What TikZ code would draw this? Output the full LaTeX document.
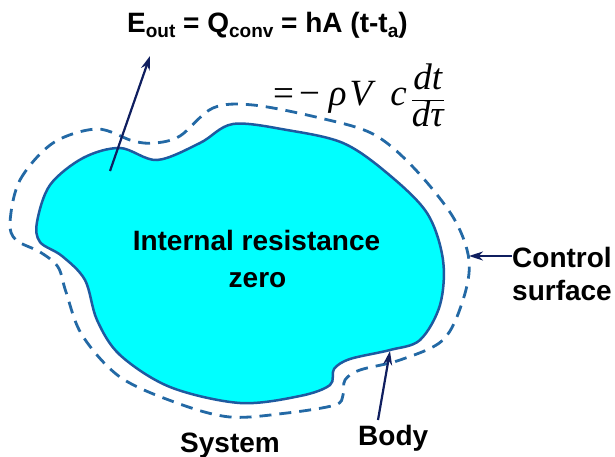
\documentclass[tikz,border=0pt]{standalone}
\usepackage{fontspec}
\setmainfont{Liberation Sans}
\newfontfamily\tms{Liberation Serif}
\usetikzlibrary{arrows.meta}
\definecolor{bodyfill}{RGB}{0,255,255}
\definecolor{bodyline}{RGB}{30,90,160}
\definecolor{dashline}{RGB}{35,105,165}
\definecolor{navy}{RGB}{15,30,95}
\tikzset{
  lbl/.style={inner sep=0pt, font=\fontsize{28}{33}\selectfont\bfseries},
  pointer/.style={draw=navy, line width=2.2pt, -{Stealth[length=14pt,width=9pt]}},
  bodyshape/.style={fill=bodyfill, draw=bodyline, line width=2.5pt},
  ctrlsurf/.style={draw=dashline, line width=2.8pt, dash pattern=on 12pt off 8pt},
}
\newcommand{\subtx}[1]{\raisebox{-5pt}{\fontsize{19}{19}\selectfont #1}}
\begin{document}
\begin{tikzpicture}[x=1pt,y=-1pt]
\useasboundingbox (0,0) rectangle (615,457);
% control surface (dashed)
\draw[ctrlsurf] plot[smooth cycle, tension=0.55] coordinates {
 (10,222) (20,180) (53,143) (97,129) (133,141) (155,143) (180,136) (213,108) (253,105)
 (320,118) (373,134) (413,167) (453,217) (469,260) (463,300) (443,340) (400,360)
 (360,370) (345,380) (343,395) (335,405) (287,413) (230,417) (177,403) (120,377)
 (82,335) (66,292) (58,267) (40,252) (16,240)};
% body
\path[bodyshape] plot[smooth cycle, tension=0.55] coordinates {
 (37,222) (50,185) (83,158) (120,148) (157,160) (200,143) (233,124) (287,130)
 (343,143) (387,173) (427,213) (443,260) (440,305) (420,340) (390,350) (350,359)
 (334,369) (330,385) (300,396) (240,403) (170,387) (120,355) (97,320) (85,280)
 (62,256) (40,242)};
% texts
\node[lbl, anchor=base west] (title) at (127,33)
  {E\subtx{out} = Q\subtx{conv} = hA (t-t\subtx{a})};
\node[inner sep=0pt, anchor=base west] (eq) at (273,106)
  {\fontsize{37}{44}\selectfont\tms $\hbox{=}\hspace{5pt}\hbox{−}\hspace{9pt}\hbox{\itshape ρ}\hspace{3pt}\hbox{\itshape V}\hspace{18pt}\hbox{\itshape c}\hspace{4pt}\displaystyle\frac{\hbox{\itshape dt}}{\hbox{\itshape dτ}}$};
\node[lbl, anchor=base] (internal) at (256.5,250) {Internal resistance};
\node[lbl, anchor=base] (zero) at (257.5,287) {zero};
\node[lbl, anchor=base west] (control) at (512,267) {Control};
\node[lbl, anchor=base west] (surface) at (512,300) {surface};
\node[lbl, anchor=base west] (system) at (180,452) {System};
\node[lbl, anchor=base west] (bodylbl) at (358,445) {Body};
% arrows
\coordinate (eoutstart) at (110,171);
\coordinate (eoutend) at (150,56);
\coordinate (bodystart) at (378,420);
\coordinate (bodyend) at (390,351);
\coordinate (ctrlend) at (469,256);
\draw[pointer] (eoutstart) -- (eoutend);
\draw[pointer] (bodystart) -- (bodyend);
\draw[pointer] (control.west |- 0,256) -- (ctrlend);
\end{tikzpicture}
\end{document}
